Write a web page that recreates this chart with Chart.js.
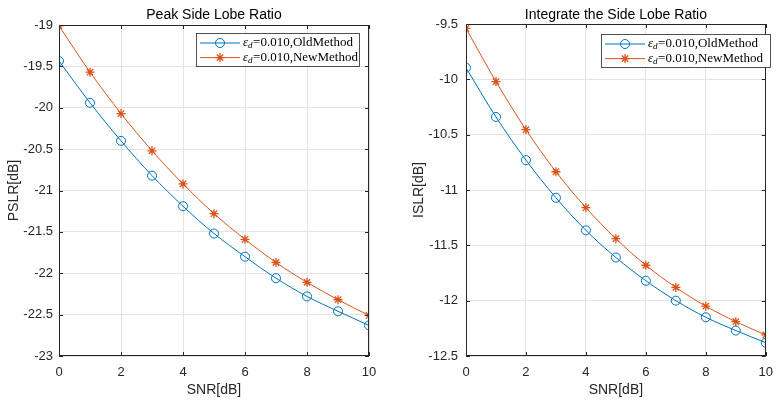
<!DOCTYPE html>
<html>
<head>
<meta charset="utf-8">
<script src="https://cdn.jsdelivr.net/npm/chart.js@4/dist/chart.umd.min.js"></script>
<style>
  html, body { margin: 0; padding: 0; background: #fff; }
  #wrap { position: relative; width: 782px; height: 401px; }
  canvas { position: absolute; top: 0; }
  #c1 { left: 0; }
  #c2 { left: 391px; }
</style>
</head>
<body>
<div id="wrap">
  <canvas id="c1" width="391" height="401"></canvas>
  <canvas id="c2" width="391" height="401"></canvas>
</div>
<script>
// SNR axis (dB)
const snr = [0, 1, 2, 3, 4, 5, 6, 7, 8, 9, 10];

// Peak side lobe ratio
const pslrOld = [-19.435, -19.94, -20.40, -20.82, -21.19, -21.52, -21.80, -22.06, -22.28, -22.46, -22.63];
const pslrNew = [-19.01, -19.57, -20.07, -20.52, -20.92, -21.28, -21.59, -21.87, -22.11, -22.32, -22.51];

// Integrated side lobe ratio
const islrOld = [-9.895, -10.34, -10.73, -11.07, -11.365, -11.61, -11.82, -12.00, -12.15, -12.27, -12.38];
const islrNew = [-9.54, -10.02, -10.455, -10.835, -11.16, -11.44, -11.68, -11.88, -12.05, -12.19, -12.31];

const legendLabels = ['=0.010,OldMethod', '=0.010,NewMethod'];
const xTicks = [0, 2, 4, 6, 8, 10];

const BLUE = '#0072BD';
const ORANGE = '#D95319';
const AXIS = '#262626';
const GRID = '#e3e3e3';
const SANS = "'Liberation Sans', Arial, Helvetica, sans-serif";
const SERIF = "'Liberation Serif', 'Times New Roman', serif";

function drawStar(ctx, x, y, r) {
  ctx.beginPath();
  for (let i = 0; i < 4; i++) {
    const a = i * Math.PI / 4;
    ctx.moveTo(x - r * Math.cos(a), y - r * Math.sin(a));
    ctx.lineTo(x + r * Math.cos(a), y + r * Math.sin(a));
  }
  ctx.stroke();
}

// box, inward ticks, titles and legend drawn like the MATLAB figure
const matlabAxes = {
  id: 'matlabAxes',
  afterDraw(chart, args, opts) {
    const ctx = chart.ctx;
    const a = chart.chartArea;
    const xs = chart.scales.x, ys = chart.scales.y;
    ctx.save();

    // box
    ctx.strokeStyle = AXIS;
    ctx.lineWidth = 1;
    ctx.strokeRect(Math.round(a.left) + 0.5, Math.round(a.top) + 0.5,
      Math.round(a.right - a.left) - 1, Math.round(a.bottom - a.top) - 1);

    // inward ticks
    const tl = 4;
    ctx.beginPath();
    xs.ticks.forEach(t => {
      const px = Math.round(xs.getPixelForValue(t.value)) + 0.5;
      ctx.moveTo(px, a.bottom); ctx.lineTo(px, a.bottom - tl);
      ctx.moveTo(px, a.top); ctx.lineTo(px, a.top + tl);
    });
    ys.ticks.forEach(t => {
      const py = Math.round(ys.getPixelForValue(t.value)) + 0.5;
      ctx.moveTo(a.left, py); ctx.lineTo(a.left + tl, py);
      ctx.moveTo(a.right, py); ctx.lineTo(a.right - tl, py);
    });
    ctx.stroke();

    // titles
    const cx = (a.left + a.right) / 2;
    ctx.fillStyle = '#000';
    ctx.textAlign = 'center';
    ctx.textBaseline = 'middle';
    ctx.font = '14px ' + SANS;
    ctx.fillText(opts.title, cx, opts.titleY);
    ctx.fillStyle = AXIS;
    ctx.fillText(opts.xTitle, cx, 390);
    ctx.save();
    ctx.translate(opts.yTitleX, (a.top + a.bottom) / 2);
    ctx.rotate(-Math.PI / 2);
    ctx.fillText(opts.yTitle, 0, 0);
    ctx.restore();

    // legend
    const L = opts.legend;
    ctx.fillStyle = '#fff';
    ctx.fillRect(L.x, L.y, L.w, L.h);
    ctx.strokeStyle = AXIS;
    ctx.lineWidth = 0.8;
    ctx.strokeRect(L.x + 0.5, L.y + 0.5, L.w, L.h);
    const rows = [
      { color: BLUE, marker: 'circle', text: legendLabels[0] },
      { color: ORANGE, marker: 'star', text: legendLabels[1] }
    ];
    rows.forEach((r, i) => {
      const y = L.y + 10 + i * 14.6;
      const x0 = L.x + 4, x1 = L.x + 44, xm = L.x + 24;
      ctx.strokeStyle = r.color;
      ctx.lineWidth = 1;
      ctx.beginPath(); ctx.moveTo(x0, y); ctx.lineTo(x1, y); ctx.stroke();
      if (r.marker === 'circle') {
        ctx.beginPath(); ctx.arc(xm, y, 4.5, 0, Math.PI * 2); ctx.stroke();
      } else {
        ctx.lineWidth = 1.3;
        drawStar(ctx, xm, y, 4.5);
      }
      ctx.fillStyle = '#000';
      ctx.textAlign = 'left';
      ctx.textBaseline = 'middle';
      let tx = L.x + 47;
      ctx.font = 'italic 13px ' + SERIF;
      ctx.fillText('\u03b5', tx, y);
      tx += ctx.measureText('\u03b5').width;
      ctx.font = 'italic 9px ' + SERIF;
      ctx.fillText('d', tx, y + 3);
      tx += ctx.measureText('d').width + 0.5;
      ctx.font = '13px ' + SERIF;
      ctx.fillText(r.text, tx, y);
    });
    ctx.restore();
  }
};

function makeChart(canvas, cfg) {
  return new Chart(canvas, {
    type: 'line',
    data: {
      datasets: [{
        data: snr.map((s, i) => ({ x: s, y: cfg.oldData[i] })),
        borderColor: BLUE,
        borderWidth: 1,
        pointStyle: 'circle',
        pointRadius: 4.5,
        pointBorderWidth: 1,
        pointBorderColor: BLUE,
        pointBackgroundColor: 'rgba(0,0,0,0)',
        cubicInterpolationMode: 'monotone',
        fill: false
      }, {
        data: snr.map((s, i) => ({ x: s, y: cfg.newData[i] })),
        borderColor: ORANGE,
        borderWidth: 1,
        pointStyle: 'star',
        pointRadius: 4.5,
        pointBorderWidth: 1.3,
        pointBorderColor: ORANGE,
        pointBackgroundColor: ORANGE,
        cubicInterpolationMode: 'monotone',
        fill: false
      }]
    },
    options: {
      responsive: false,
      animation: false,
      events: [],
      layout: { padding: { left: 0, right: cfg.padRight, top: cfg.padTop, bottom: 0 } },
      plugins: {
        legend: { display: false },
        tooltip: { enabled: false },
        title: { display: false },
        matlabAxes: cfg.axes
      },
      scales: {
        x: {
          type: 'linear',
          min: 0, max: 10,
          afterBuildTicks: s => { s.ticks = xTicks.map(v => ({ value: v })); },
          afterFit: s => { s.height = 401 - 356; },
          grid: { color: GRID, drawTicks: false },
          border: { display: false },
          ticks: { color: AXIS, font: { family: SANS, size: 13 }, padding: 9, maxRotation: 0 }
        },
        y: {
          min: cfg.yMin, max: cfg.yMax,
          afterFit: s => { s.width = cfg.yWidth; },
          grid: { color: GRID, drawTicks: false },
          border: { display: false },
          ticks: {
            color: AXIS, font: { family: SANS, size: 13 }, padding: cfg.yPad, stepSize: 0.5,
            callback: v => String(Math.round(v * 10) / 10)
          }
        }
      }
    },
    plugins: [matlabAxes]
  });
}

makeChart(document.getElementById('c1'), {
  oldData: pslrOld, newData: pslrNew,
  yMin: -23, yMax: -19,
  yWidth: 59, yPad: 6, padRight: 22, padTop: 25,
  axes: {
    title: 'Peak Side Lobe Ratio', titleY: 15,
    xTitle: 'SNR[dB]', yTitle: 'PSLR[dB]', yTitleX: 14,
    legend: { x: 196, y: 33, w: 163, h: 33 }
  }
});

makeChart(document.getElementById('c2'), {
  oldData: islrOld, newData: islrNew,
  yMin: -12.5, yMax: -9.5,
  yWidth: 75, yPad: 8, padRight: 8, padTop: 24,
  axes: {
    title: 'Integrate the Side Lobe Ratio', titleY: 15,
    xTitle: 'SNR[dB]', yTitle: 'ISLR[dB]', yTitleX: 28,
    legend: { x: 210, y: 34, w: 169, h: 33 }
  }
});
</script>
</body>
</html>
